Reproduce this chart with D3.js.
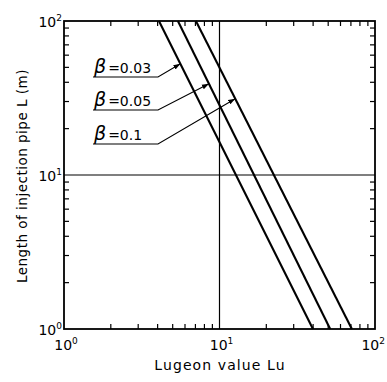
<!DOCTYPE html>
<html><head><meta charset="utf-8">
<script src="https://cdn.jsdelivr.net/npm/d3@7"></script>
<style>
html,body{margin:0;padding:0;background:#fff;}
text{font-family:"DejaVu Sans",sans-serif;fill:#000;}
</style></head>
<body>
<svg id="chart" width="387" height="382"></svg>
<script>
// ---- data ----
const betaLabels = ["0.03", "0.05", "0.1"];
const luAtL100 = [4.08, 5.40, 7.05];   // Lugeon value where each line meets L = 100 m
const luAtL1   = [39.9, 51.5, 71.0];   // Lugeon value where each line meets L = 1 m
const leaderTipL = [52.7, 39.1, 31.3]; // L where each label's arrow touches its line
const xTicks = [1, 10, 100];
const yTicks = [1, 10, 100];
const xTickLabels = ["0", "1", "2"];
const yTickLabels = ["0", "1", "2"];
const gridX = [10];
const gridY = [10];
const xTitle = "Lugeon value  Lu";
const yTitle = "Length of injection pipe  L (m)";

// ---- layout ----
const svg = d3.select("#chart");
const M = {left: 64, top: 21, right: 375, bottom: 329};
const x = d3.scaleLog().domain([1, 100]).range([M.left, M.right]);
const y = d3.scaleLog().domain([1, 100]).range([M.bottom, M.top]);

// minor ticks
const minor = [];
[1, 10].forEach(d => { for (let k = 2; k <= 9; k++) minor.push(d * k); });
const tl = 5;
const g = svg.append("g").attr("stroke", "#000").attr("stroke-width", 1.2);
minor.forEach(v => {
  g.append("line").attr("x1", x(v)).attr("x2", x(v)).attr("y1", M.bottom).attr("y2", M.bottom - tl);
  g.append("line").attr("x1", x(v)).attr("x2", x(v)).attr("y1", M.top).attr("y2", M.top + tl);
  g.append("line").attr("y1", y(v)).attr("y2", y(v)).attr("x1", M.left).attr("x2", M.left + tl);
  g.append("line").attr("y1", y(v)).attr("y2", y(v)).attr("x1", M.right).attr("x2", M.right - tl);
});
// grid lines at 10
gridX.forEach(v => svg.append("line").attr("x1", x(v)).attr("x2", x(v)).attr("y1", M.top).attr("y2", M.bottom)
  .attr("stroke", "#000").attr("stroke-width", 1.2));
gridY.forEach(v => svg.append("line").attr("y1", y(v)).attr("y2", y(v)).attr("x1", M.left).attr("x2", M.right)
  .attr("stroke", "#000").attr("stroke-width", 1.2));

// frame
svg.append("rect").attr("x", M.left).attr("y", M.top)
  .attr("width", M.right - M.left).attr("height", M.bottom - M.top)
  .attr("fill", "none").attr("stroke", "#000").attr("stroke-width", 1.8);

// series lines
const lineGen = d3.line().x(d => x(d[0])).y(d => y(d[1]));
betaLabels.forEach((b, i) => {
  svg.append("path").datum([[luAtL100[i], 100], [luAtL1[i], 1]])
    .attr("d", lineGen).attr("fill", "none").attr("stroke", "#000").attr("stroke-width", 2.1);
});

// tick labels
function supLabel(sel, exp) {
  sel.append("tspan").text("10");
  sel.append("tspan").attr("dy", -6).attr("font-size", 9).text(exp);
}
xTicks.forEach((v, i) => {
  const last = i === xTicks.length - 1;
  const t = svg.append("text").attr("x", last ? 385 : x(v) + 2).attr("y", 350)
    .attr("text-anchor", last ? "end" : "middle").attr("font-size", 14);
  supLabel(t, xTickLabels[i]);
});
yTicks.forEach((v, i) => {
  const t = svg.append("text").attr("x", 62).attr("y", y(v) + 6).attr("text-anchor", "end").attr("font-size", 14);
  supLabel(t, yTickLabels[i]);
});

// axis titles
svg.append("text").attr("x", 220).attr("y", 370).attr("text-anchor", "middle")
  .attr("font-size", 14).attr("letter-spacing", 1.1).text(xTitle);
svg.append("text").attr("transform", "translate(27,176) rotate(-90)").attr("text-anchor", "middle")
  .attr("font-size", 13.5).attr("letter-spacing", 0.5).text(yTitle);

// annotations
const defs = svg.append("defs");
defs.append("marker").attr("id", "arr").attr("viewBox", "0 0 10 10").attr("refX", 10).attr("refY", 5)
  .attr("markerWidth", 7).attr("markerHeight", 7).attr("markerUnits", "userSpaceOnUse").attr("orient", "auto")
  .append("path").attr("d", "M0,1.5L10,5L0,8.5Z").attr("fill", "#000");

const labelBase = [73, 106, 140];
const ulY = [77, 110, 144];
betaLabels.forEach((b, i) => {
  // point on line at given L (log-linear interpolation)
  const t = (Math.log10(100) - Math.log10(leaderTipL[i])) / 2;
  const lu = Math.pow(10, Math.log10(luAtL100[i]) + t * (Math.log10(luAtL1[i]) - Math.log10(luAtL100[i])));
  const tx = x(lu), ty = y(leaderTipL[i]);
  const txt = svg.append("text").attr("x", 94).attr("y", labelBase[i]);
  txt.append("tspan").attr("font-size", 19).attr("font-style", "italic").text("β");
  txt.append("tspan").attr("font-size", 14).attr("dx", 2).text("=" + b);
  svg.append("path").attr("d", `M93,${ulY[i]}L158,${ulY[i]}L${tx},${ty}`)
    .attr("fill", "none").attr("stroke", "#000").attr("stroke-width", 1.1).attr("marker-end", "url(#arr)");
});
</script>
</body></html>
